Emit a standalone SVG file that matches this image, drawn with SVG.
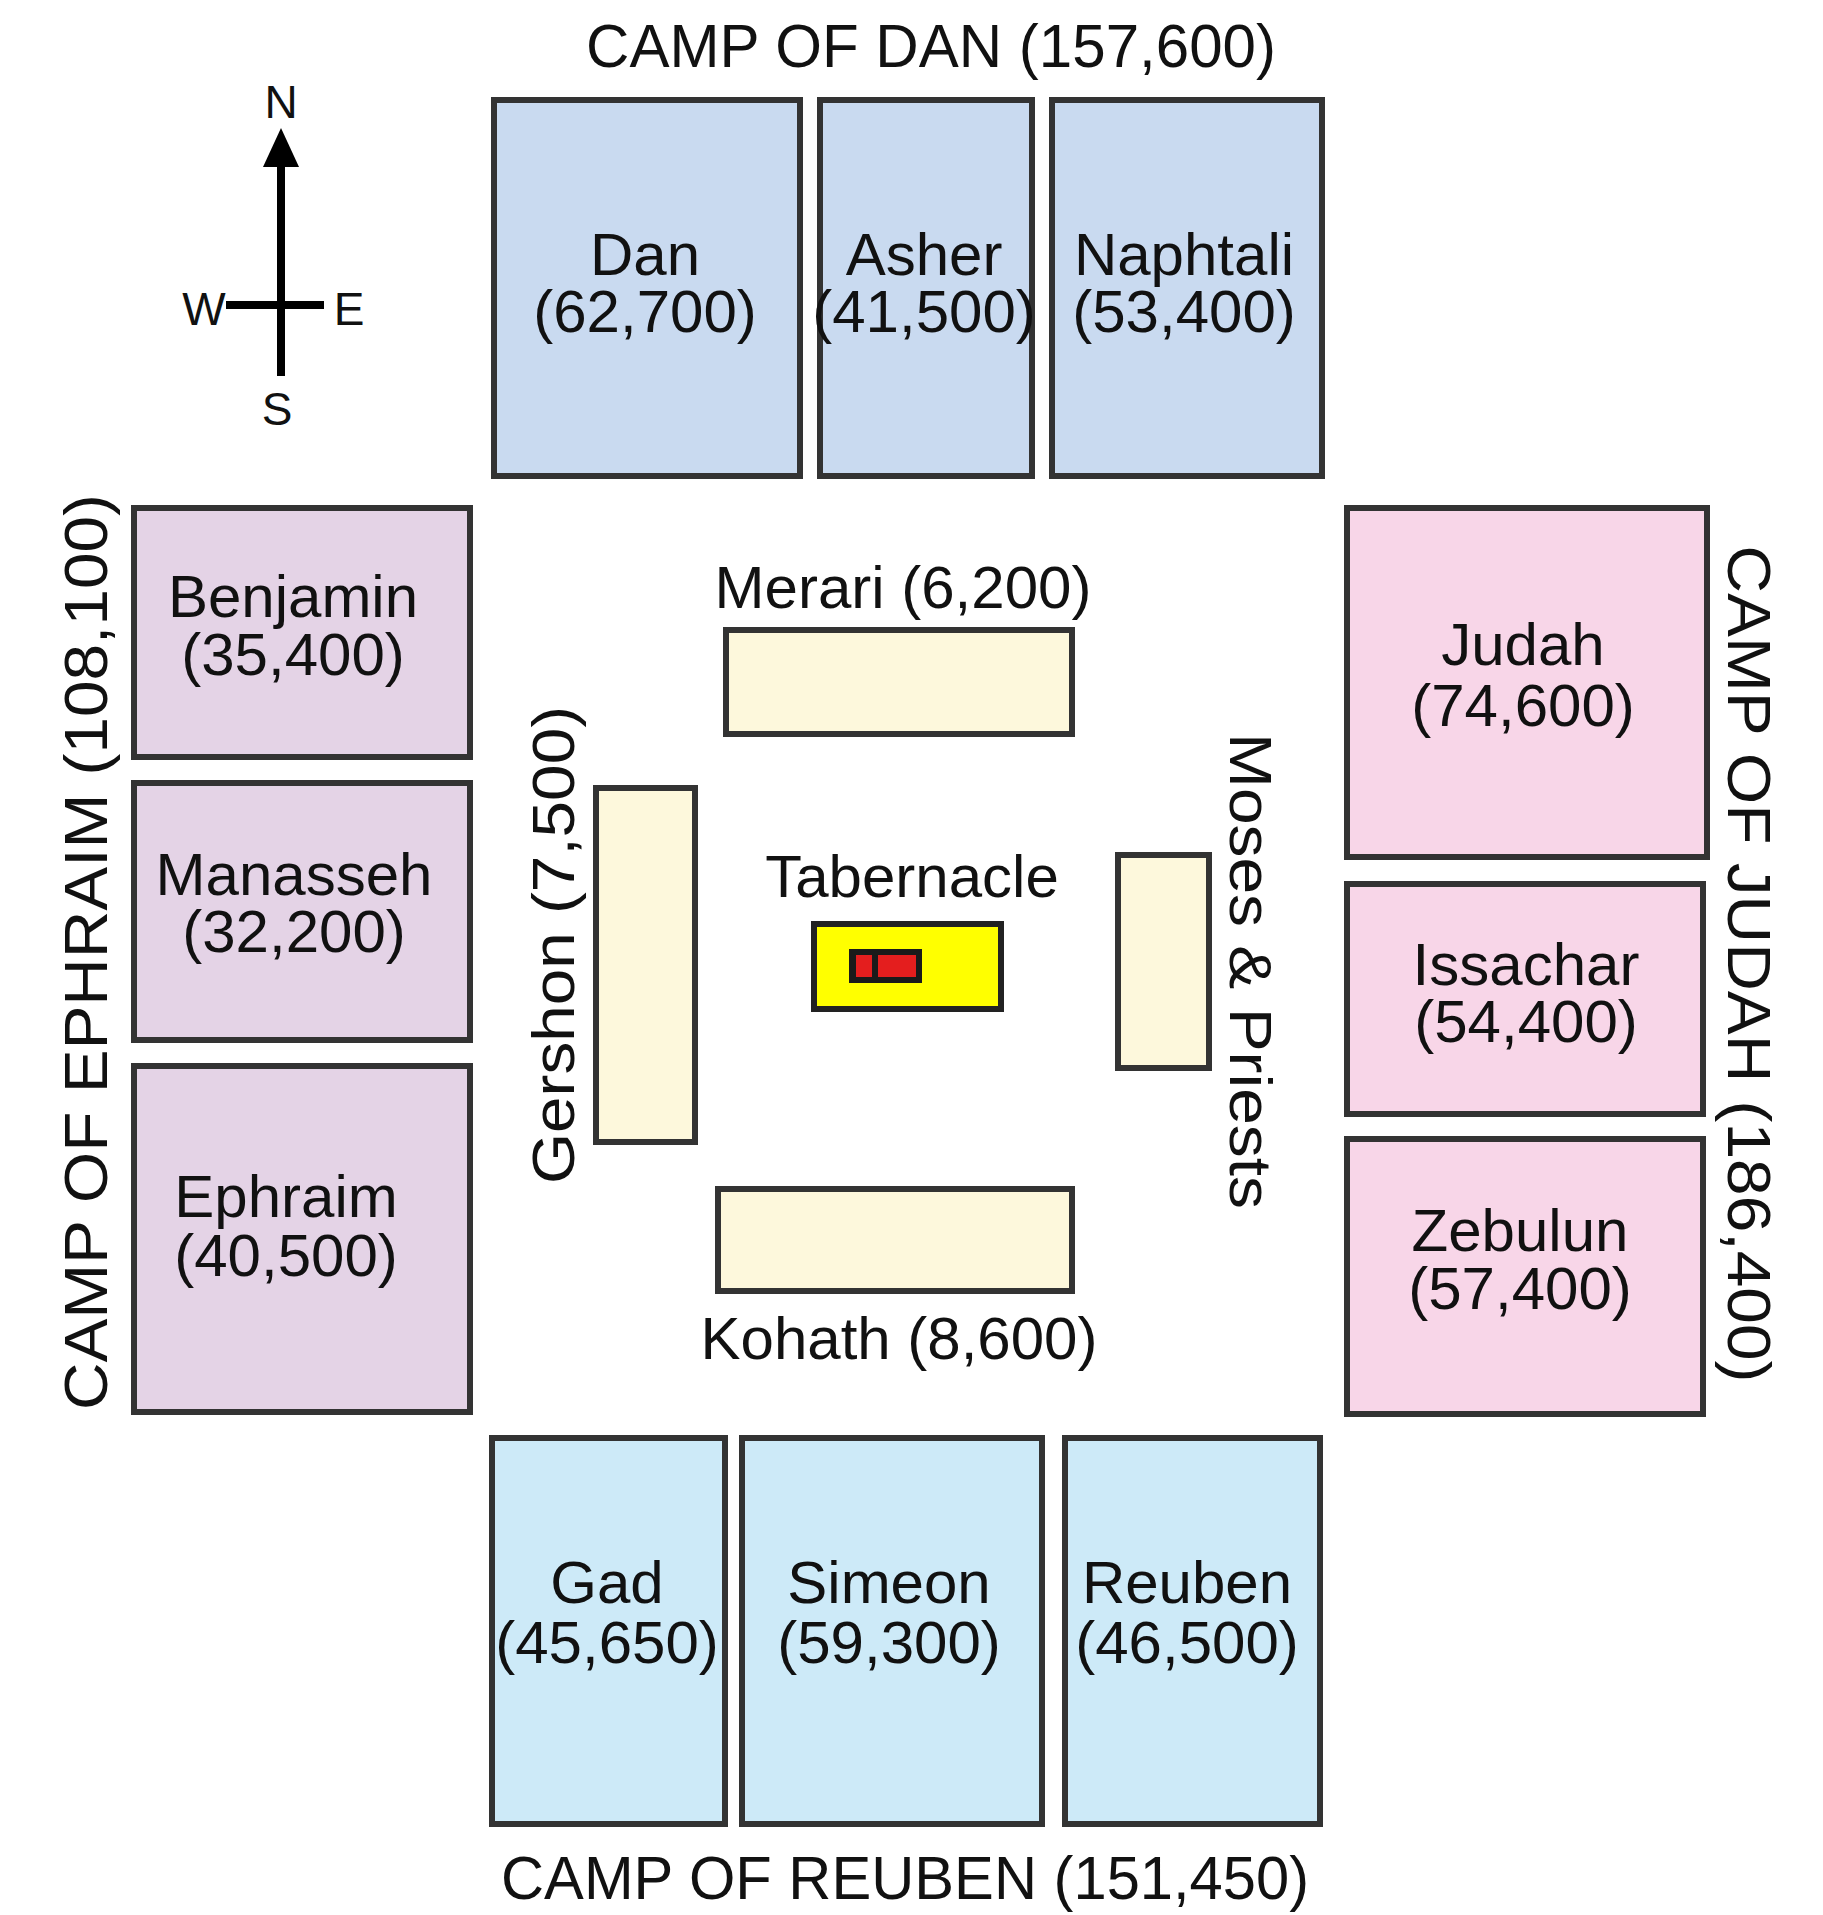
<svg xmlns="http://www.w3.org/2000/svg" width="1823" height="1915" viewBox="0 0 1823 1915">
<style>
text{font-family:"Liberation Sans",Arial,sans-serif;fill:#111;}
.t{font-size:60px;text-anchor:middle;}
.camp{font-size:62px;text-anchor:middle;}
.dan{fill:#c9daf0;stroke:#333;stroke-width:6;}
.eph{fill:#e4d3e6;stroke:#333;stroke-width:6;}
.jud{fill:#f8d6e8;stroke:#333;stroke-width:6;}
.reu{fill:#cdeaf8;stroke:#333;stroke-width:6;}
.lev{fill:#fdf8dc;stroke:#333;stroke-width:6;}
</style>
<rect width="1823" height="1915" fill="#fff"/>
<g id="compass">
<line x1="281" y1="160" x2="281" y2="376" stroke="#000" stroke-width="8"/>
<polygon points="281,128 263,167 299,167" fill="#000"/>
<line x1="226" y1="305" x2="324" y2="305" stroke="#000" stroke-width="8"/>
<text x="281" y="118" font-size="46" text-anchor="middle">N</text>
<text x="204" y="325" font-size="46" text-anchor="middle">W</text>
<text x="349" y="325" font-size="46" text-anchor="middle">E</text>
<text x="277" y="425" font-size="46" text-anchor="middle">S</text>
</g>
<g id="camp-dan">
<text class="camp" x="931" y="67" textLength="690" lengthAdjust="spacingAndGlyphs">CAMP OF DAN (157,600)</text>
</g>
<g id="dan"><rect class="dan" x="494" y="100" width="306" height="376"/><text class="t" x="645" y="275">Dan</text><text class="t" x="645" y="332">(62,700)</text></g>
<g id="asher"><rect class="dan" x="820" y="100" width="212" height="376"/><text class="t" x="924" y="275">Asher</text><text class="t" x="924" y="332">(41,500)</text></g>
<g id="naphtali"><rect class="dan" x="1052" y="100" width="270" height="376"/><text class="t" x="1184" y="275">Naphtali</text><text class="t" x="1184" y="332">(53,400)</text></g>
<g id="camp-ephraim">
<text class="camp" transform="translate(107,952) rotate(-90)" x="0" y="0" font-size="64" textLength="916" lengthAdjust="spacingAndGlyphs">CAMP OF EPHRAIM (108,100)</text>
</g>
<g id="benjamin"><rect class="eph" x="134" y="508" width="336" height="249"/><text class="t" x="293" y="617">Benjamin</text><text class="t" x="293" y="675">(35,400)</text></g>
<g id="manasseh"><rect class="eph" x="134" y="783" width="336" height="257"/><text class="t" x="294" y="895">Manasseh</text><text class="t" x="294" y="952">(32,200)</text></g>
<g id="ephraim"><rect class="eph" x="134" y="1066" width="336" height="346"/><text class="t" x="286" y="1217">Ephraim</text><text class="t" x="286" y="1276">(40,500)</text></g>
<g id="camp-judah">
<text class="camp" transform="translate(1728,964) rotate(90)" x="0" y="0" font-size="64" textLength="837" lengthAdjust="spacingAndGlyphs">CAMP OF JUDAH (186,400)</text>
</g>
<g id="judah"><rect class="jud" x="1347" y="508" width="360" height="349"/><text class="t" x="1523" y="665">Judah</text><text class="t" x="1523" y="726">(74,600)</text></g>
<g id="issachar"><rect class="jud" x="1347" y="884" width="356" height="230"/><text class="t" x="1526" y="985">Issachar</text><text class="t" x="1526" y="1042">(54,400)</text></g>
<g id="zebulun"><rect class="jud" x="1347" y="1139" width="356" height="275"/><text class="t" x="1520" y="1251">Zebulun</text><text class="t" x="1520" y="1309">(57,400)</text></g>
<g id="gad"><rect class="reu" x="492" y="1438" width="233" height="386"/><text class="t" x="607" y="1603">Gad</text><text class="t" x="607" y="1663">(45,650)</text></g>
<g id="simeon"><rect class="reu" x="742" y="1438" width="300" height="386"/><text class="t" x="889" y="1603">Simeon</text><text class="t" x="889" y="1663">(59,300)</text></g>
<g id="reuben"><rect class="reu" x="1065" y="1438" width="255" height="386"/><text class="t" x="1187" y="1603">Reuben</text><text class="t" x="1187" y="1663">(46,500)</text></g>
<g id="camp-reuben">
<text class="camp" x="905" y="1899" textLength="808" lengthAdjust="spacingAndGlyphs">CAMP OF REUBEN (151,450)</text>
</g>
<g id="merari"><rect class="lev" x="726" y="630" width="346" height="104"/><text class="t" x="903" y="608">Merari (6,200)</text></g>
<g id="gershon"><rect class="lev" x="596" y="788" width="99" height="354"/><text class="t" transform="translate(574,945) rotate(-90)" x="0" y="0" textLength="478" lengthAdjust="spacingAndGlyphs">Gershon (7,500)</text></g>
<g id="kohath"><rect class="lev" x="718" y="1189" width="354" height="102"/><text class="t" x="899" y="1359">Kohath (8,600)</text></g>
<g id="moses"><rect class="lev" x="1118" y="855" width="91" height="213"/><text class="t" transform="translate(1230,971) rotate(90)" x="0" y="0" textLength="476" lengthAdjust="spacingAndGlyphs">Moses &amp; Priests</text></g>
<g id="tabernacle">
<text class="t" x="912" y="897">Tabernacle</text>
<rect x="814" y="924" width="187" height="85" fill="#ffff00" stroke="#222" stroke-width="6"/>
<rect x="849" y="949" width="73" height="34" fill="#1a1a1a"/>
<rect x="856" y="955" width="16" height="22" fill="#e41e1e"/>
<rect x="878" y="955" width="38" height="22" fill="#e41e1e"/>
</g>
<g id="connectors"></g>
</svg>
